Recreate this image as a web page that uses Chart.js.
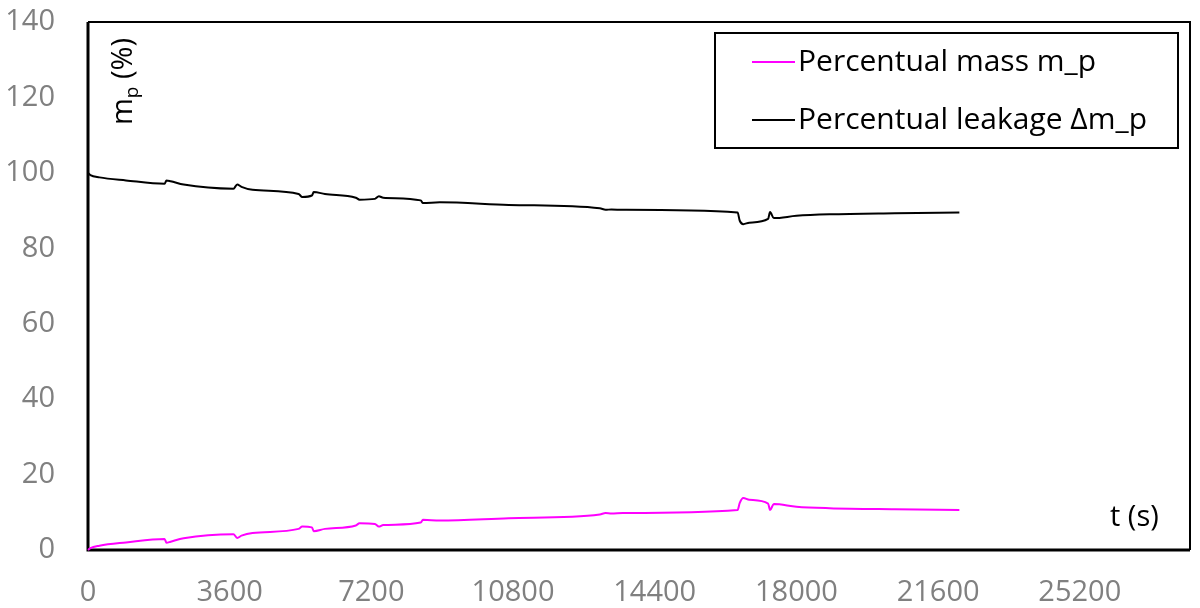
<!DOCTYPE html>
<html>
<head>
<meta charset="utf-8">
<script src="https://cdn.jsdelivr.net/npm/chart.js@4.4.1/dist/chart.umd.min.js"></script>
<style>
    html, body { margin: 0; padding: 0; background: #fff; }
    #wrap { width: 1200px; height: 608px; }
</style>
</head>
<body>
<div id="wrap"><canvas id="chart" width="1200" height="608"></canvas></div>
<script>
// time in seconds
const timeS = [0, 60, 290, 965, 1945, 1995, 2100, 2430, 3695, 3790, 3900, 4180,
    5350, 5445, 5690, 5735, 6020, 6805, 6900, 7290, 7390, 7500, 8455, 8510,
    8940, 10690, 13005, 13150, 13300, 13590, 16505, 16560, 16650, 16800,
    17280, 17330, 17425, 18000, 18840, 20500, 22140];
const massP = [0, 0.5, 1.15, 2.0, 2.9, 1.9, 2.2, 3.1, 4.2, 3.2, 3.8, 4.5,
    5.6, 6.2, 6.0, 5.0, 5.6, 6.5, 7.1, 6.9, 6.2, 6.6, 7.3, 8.0,
    7.8, 8.4, 9.4, 9.8, 9.7, 9.8, 10.6, 12.5, 13.8, 13.3,
    12.3, 10.6, 12.2, 11.5, 11.1, 10.8, 10.6];
const leakP = [100, 99.4, 98.8, 98.0, 97.1, 98.0, 97.8, 96.9, 95.8, 96.9, 96.3, 95.5,
    94.4, 93.6, 94.0, 94.9, 94.4, 93.4, 92.9, 93.1, 93.8, 93.4, 92.7, 92.0,
    92.2, 91.5, 90.6, 90.2, 90.3, 90.2, 89.5, 87.3, 86.4, 86.8,
    87.8, 89.6, 88.0, 88.6, 89.0, 89.3, 89.5];
const xTicks = [0, 3600, 7200, 10800, 14400, 18000, 21600, 25200];
const yTicks = [0, 20, 40, 60, 80, 100, 120, 140];
const seriesNames = ["Percentual mass m_p", "Percentual leakage Δm_p"];
const seriesColors = ["#ff00ff", "#000000"];

const FONT = '"Open Sans", "Noto Sans", sans-serif';

const toPoints = (ys) => timeS.map((t, i) => ({ x: t, y: ys[i] }));

const frame = {
    id: "frame",
    beforeDatasetsDraw: (chart) => {
        const { ctx, chartArea: a } = chart;
        ctx.save();
        ctx.strokeStyle = "#000";
        ctx.lineWidth = 2;
        ctx.beginPath();
        ctx.moveTo(a.left, a.top);
        ctx.lineTo(a.right, a.top);
        ctx.lineTo(a.right, a.bottom);
        ctx.stroke();
        ctx.lineWidth = 3;
        ctx.beginPath();
        ctx.moveTo(a.left, a.top);
        ctx.lineTo(a.left, a.bottom);
        ctx.lineTo(a.right, a.bottom);
        ctx.stroke();
        ctx.restore();
    },
};

const labels = {
    id: "labels",
    afterDraw: (chart) => {
        const ctx = chart.ctx;
        ctx.save();
        ctx.fillStyle = "#000";

        // y axis title, rotated, with subscript p
        ctx.translate(132, 125);
        ctx.rotate(-Math.PI / 2);
        ctx.textBaseline = "alphabetic";
        ctx.font = "29px " + FONT;
        ctx.fillText("m", 0, 0);
        let w = ctx.measureText("m").width;
        ctx.font = "19px " + FONT;
        ctx.fillText("p", w, 6);
        w += ctx.measureText("p").width;
        ctx.font = "29px " + FONT;
        ctx.fillText(" (%)", w, 0);
        ctx.restore();

        // x axis title
        ctx.save();
        ctx.fillStyle = "#000";
        ctx.font = "29px " + FONT;
        ctx.textBaseline = "alphabetic";
        ctx.fillText("t (s)", 1110, 526);
        ctx.restore();

        // legend box
        ctx.save();
        ctx.fillStyle = "#fff";
        ctx.fillRect(715, 33, 463, 115);
        ctx.strokeStyle = "#000";
        ctx.lineWidth = 2;
        ctx.strokeRect(715, 33, 463, 115);
        ctx.font = "30px " + FONT;
        ctx.textBaseline = "middle";
        const rows = [62, 120];
        chart.data.datasets.forEach((ds, i) => {
            ctx.strokeStyle = ds.borderColor;
            ctx.lineWidth = 2;
            ctx.beginPath();
            ctx.moveTo(752, rows[i]);
            ctx.lineTo(795, rows[i]);
            ctx.stroke();
            ctx.fillStyle = "#000";
            ctx.fillText(ds.label, 798, rows[i]);
        });
        ctx.restore();
    },
};

new Chart(document.getElementById("chart"), {
    type: "line",
    data: {
        datasets: [
            {
                label: seriesNames[0],
                data: toPoints(massP),
                borderColor: seriesColors[0],
                borderWidth: 2,
                pointRadius: 0,
                cubicInterpolationMode: "monotone",
                clip: false,
            },
            {
                label: seriesNames[1],
                data: toPoints(leakP),
                borderColor: seriesColors[1],
                borderWidth: 2,
                pointRadius: 0,
                cubicInterpolationMode: "monotone",
                clip: false,
            },
        ],
    },
    options: {
        responsive: false,
        animation: false,
        layout: {
            autoPadding: false,
            padding: { top: 22, right: 10, left: 0, bottom: 0 },
        },
        plugins: {
            legend: { display: false },
            tooltip: { enabled: false },
        },
        scales: {
            x: {
                type: "linear",
                min: 0,
                max: 28000,
                afterBuildTicks: (scale) => {
                    scale.ticks = xTicks.map((v) => ({ value: v }));
                },
                afterFit: (scale) => {
                    scale.height = 58;
                    scale.paddingLeft = 0;
                    scale.paddingRight = 0;
                },
                grid: { display: false, drawTicks: false, tickLength: 0 },
                border: { display: false },
                ticks: {
                    padding: 25,
                    maxRotation: 0,
                    autoSkip: false,
                    color: "#808080",
                    font: { family: FONT, size: 29 },
                    callback: (v) => String(v),
                },
            },
            y: {
                min: 0,
                max: 140,
                afterBuildTicks: (scale) => {
                    scale.ticks = yTicks.map((v) => ({ value: v }));
                },
                afterFit: (scale) => {
                    scale.width = 88;
                    scale.paddingTop = 0;
                    scale.paddingBottom = 0;
                },
                grid: { display: false, drawTicks: false, tickLength: 0 },
                border: { display: false },
                ticks: {
                    padding: 33,
                    color: "#808080",
                    font: { family: FONT, size: 29 },
                    callback: (v) => String(v),
                },
            },
        },
    },
    plugins: [frame, labels],
});
</script>
</body>
</html>
